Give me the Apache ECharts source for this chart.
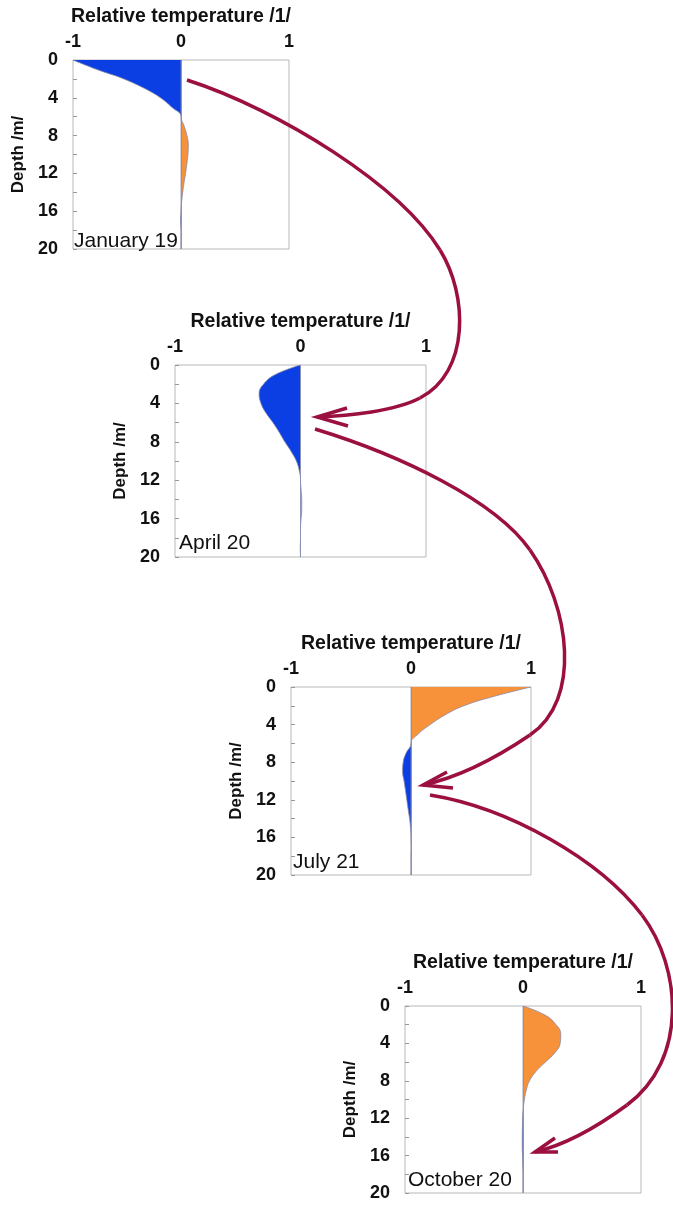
<!DOCTYPE html>
<html lang="en">
<head>
    <meta charset="utf-8">
    <script src="https://cdn.jsdelivr.net/npm/echarts@6/dist/echarts.min.js"></script>
</head>
<body style="margin:0;background:#fff">
<div id="main" style="width:673px;height:1207px;"></div>
<script type="text/javascript">
    // depth below surface, m
    var depths = [0, 1, 2, 3, 4, 5, 6, 7, 8, 9, 10, 11, 12, 13, 14, 15, 16, 17, 18, 19, 20];
    // relative temperature profiles
    var janTemp = [-1.0, -0.78, -0.53, -0.34, -0.19, -0.085, 0.0, 0.03, 0.055, 0.068, 0.064, 0.054, 0.042, 0.028, 0.016, 0.006, 0.0, -0.004, 0.0, 0.0, 0.0];
    var aprTemp = [0.0, -0.2, -0.295, -0.33, -0.315, -0.275, -0.22, -0.17, -0.125, -0.075, -0.033, -0.01, 0.0, 0.005, 0.01, 0.01, 0.005, 0.0, 0.0, -0.002, 0.0];
    var julTemp = [1.0, 0.69, 0.44, 0.28, 0.16, 0.06, 0.0, -0.04, -0.065, -0.07, -0.058, -0.046, -0.035, -0.024, -0.012, -0.004, 0.0, 0.002, 0.0, 0.0, 0.0];
    var octTemp = [0.0, 0.19, 0.28, 0.32, 0.315, 0.27, 0.19, 0.11, 0.055, 0.028, 0.012, 0.003, -0.003, -0.005, -0.006, -0.006, -0.004, -0.002, 0.0, 0.0, 0.0];
    var profiles = [janTemp, aprTemp, julTemp, octTemp];
    var panelLabels = ['January 19', 'April 20', 'July 21', 'October 20'];
    var tempTicks = [-1, 0, 1];

    var BLUE = '#0b3fe3';
    var ORANGE = '#f7923a';
    var ARROW = '#9b1040';
    var FONT = 'Liberation Sans, Arial, sans-serif';

    // plot boxes of the four panels
    var boxes = [
        {left: 73, top: 60, width: 216, height: 189},
        {left: 175, top: 365, width: 251, height: 192},
        {left: 291, top: 687, width: 240, height: 188},
        {left: 405, top: 1006, width: 236, height: 187}
    ];
    var labelPos = [[74, 231], [179, 533], [293, 852], [408, 1170]];

    var myChart = echarts.init(document.getElementById('main'));

    var grids = [], xAxes = [], yAxes = [], series = [], titles = [];
    boxes.forEach(function (b, i) {
        grids.push({
            left: b.left, top: b.top, width: b.width, height: b.height,
            show: true, borderColor: '#b8b8b8', borderWidth: 1
        });
        xAxes.push({
            gridIndex: i, type: 'value', position: 'top',
            min: tempTicks[0], max: tempTicks[2], interval: 1,
            name: 'Relative temperature /1/', nameLocation: 'middle', nameGap: 33,
            nameTextStyle: {fontSize: 19.5, fontWeight: 'bold', color: '#111', fontFamily: FONT},
            axisLine: {show: false, onZero: false}, axisTick: {show: false}, splitLine: {show: false},
            axisLabel: {fontSize: 18, fontWeight: 'bold', color: '#111', margin: 9, fontFamily: FONT}
        });
        yAxes.push({
            gridIndex: i, type: 'category', inverse: true, boundaryGap: false,
            data: depths.map(String),
            name: 'Depth /m/', nameLocation: 'middle', nameGap: 46, nameRotate: 90,
            nameTextStyle: {fontSize: 17, fontWeight: 'bold', color: '#111', fontFamily: FONT},
            axisLine: {show: false, onZero: false},
            axisTick: {show: true, inside: true, length: 4, interval: 1, lineStyle: {color: '#999'}},
            axisLabel: {interval: 3, fontSize: 18, fontWeight: 'bold', color: '#111', margin: 15, fontFamily: FONT}
        });
        // cold part (below zero) and warm part (above zero) of the same profile
        var parts = [
            {color: BLUE, pick: function (v) { return Math.min(v, 0); }},
            {color: ORANGE, pick: function (v) { return Math.max(v, 0); }}
        ];
        parts.forEach(function (p, j) {
            var s = {
                type: 'line', xAxisIndex: i, yAxisIndex: i,
                data: profiles[i].map(function (v, k) { return [p.pick(v), String(depths[k])]; }),
                smooth: 0.45, showSymbol: false, silent: true,
                lineStyle: {color: '#8a8aa6', width: 0.8},
                areaStyle: {color: p.color, opacity: 1}
            };
            if (j === 1) {
                s.markLine = {
                    silent: true, symbol: 'none', label: {show: false},
                    lineStyle: {color: '#8a93b5', width: 1, type: 'solid'},
                    data: [{xAxis: 0}]
                };
            }
            series.push(s);
        });
        titles.push({
            text: panelLabels[i], left: labelPos[i][0], top: labelPos[i][1], padding: 0,
            textStyle: {fontSize: 21, fontWeight: 'normal', color: '#111', fontFamily: FONT}
        });
    });

    function curve(x1, y1, cx1, cy1, cx2, cy2, x2, y2) {
        return {
            type: 'bezierCurve', z: 100,
            shape: {x1: x1, y1: y1, cpx1: cx1, cpy1: cy1, cpx2: cx2, cpy2: cy2, x2: x2, y2: y2},
            style: {stroke: ARROW, lineWidth: 3.5, fill: null}
        };
    }
    function head(pts) {
        return {
            type: 'polyline', z: 100,
            shape: {points: pts},
            style: {stroke: ARROW, lineWidth: 3.5, fill: null}
        };
    }

    var arrows = [
        // January -> April
        curve(187, 80, 280, 110, 400, 185, 440, 250),
        curve(440, 250, 468, 295, 470, 372, 420, 398),
        curve(420, 398, 395, 411, 350, 416, 317, 417),
        head([[347, 408], [317, 417], [348, 426]]),
        // April -> July
        curve(315, 429, 400, 455, 495, 500, 530, 550),
        curve(530, 550, 570, 607, 582, 700, 530, 735),
        curve(530, 735, 499, 756, 460, 777, 423, 785),
        head([[447, 772], [423, 785], [453, 788]]),
        // July -> October
        curve(430, 795, 510, 808, 600, 860, 642, 915),
        curve(642, 915, 682, 968, 688, 1060, 627, 1105),
        curve(627, 1105, 597, 1127, 565, 1145, 535, 1152),
        head([[555, 1138], [535, 1152], [558, 1152]])
    ];

    var option = {
        animation: false,
        backgroundColor: '#fff',
        textStyle: {fontFamily: FONT},
        title: titles,
        grid: grids,
        xAxis: xAxes,
        yAxis: yAxes,
        series: series,
        graphic: arrows
    };
    myChart.setOption(option);
</script>
</body>
</html>
